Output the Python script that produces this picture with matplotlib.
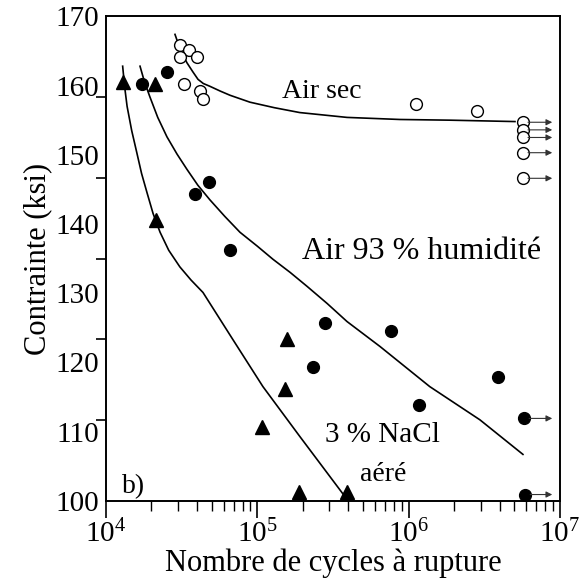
import numpy as np
import matplotlib
matplotlib.use('Agg')
import matplotlib.pyplot as plt

plt.rcParams['font.family'] = ['Liberation Serif', 'DejaVu Serif']
plt.rcParams['mathtext.fontset'] = 'custom'
plt.rcParams['mathtext.rm'] = 'Liberation Serif'

# ==========================================
# data
# ==========================================
# Air sec (open circles)
sec_n = [3.08e4, 3.54e4, 3.99e4, 3.08e4, 3.28e4, 4.18e4, 4.37e4, 1.12e6, 2.83e6]
sec_s = [165.9, 165.2, 164.2, 164.1, 160.2, 159.2, 158.0, 157.3, 156.3]
sec_run_n = [5.7e6, 5.7e6, 5.7e6, 5.7e6, 5.7e6]
sec_run_s = [154.7, 153.6, 152.5, 150.3, 146.6]
sec_curve_n = [2.86e4, 3.10e4, 3.43e4, 3.75e4, 4.06e4, 4.40e4, 4.86e4, 5.70e4, 6.61e4,
               8.95e4, 1.30e5, 1.91e5, 3.92e5, 8.77e5, 1.88e6, 5.05e6]
sec_curve_s = [167.4, 165.2, 163.3, 162.0, 160.9, 160.3, 159.9, 159.2, 158.6,
               157.6, 156.8, 156.1, 155.4, 155.1, 155.0, 154.8]

# Air 93 % humidite (filled circles)
hum_n = [1.73e4, 2.53e4, 4.80e4, 3.87e4, 6.61e4, 2.80e5, 2.33e5, 7.66e5, 1.17e6, 3.90e6]
hum_s = [160.2, 162.0, 146.1, 144.4, 136.3, 125.7, 119.4, 124.6, 113.9, 117.9]
hum_run_n = [5.8e6, 5.9e6]
hum_run_s = [111.9, 100.9]
hum_curve_n = [1.68e4, 1.80e4, 1.95e4, 2.20e4, 2.53e4, 2.95e4, 3.43e4, 4.05e4, 4.86e4, 6.10e4,
               7.69e4, 1.00e5, 1.27e5, 1.65e5, 2.13e5, 2.90e5, 3.92e5, 6.47e5, 1.38e6,
               2.96e6, 5.70e6]
hum_curve_s = [162.8, 160.5, 158.4, 155.4, 152.6, 150.1, 147.9, 145.6, 143.5, 141.1,
               138.8, 136.8, 134.9, 133.0, 131.0, 128.5, 125.9, 122.3, 116.5,
               111.7, 106.7]

# 3 % NaCl aere (triangles)
nacl_n = [1.30e4, 2.11e4, 2.14e4, 1.57e5, 1.52e5, 1.07e5, 1.89e5, 3.92e5]
nacl_s = [160.5, 160.2, 140.6, 123.4, 116.1, 110.6, 101.2, 101.2]
nacl_curve_n = [1.29e4, 1.33e4, 1.38e4, 1.48e4, 1.60e4, 1.72e4, 1.87e4, 2.05e4, 2.28e4,
                2.60e4, 3.08e4, 3.65e4, 4.38e4, 6.90e4, 1.09e5, 1.91e5, 3.80e5]
nacl_curve_s = [162.8, 159.8, 157.0, 153.5, 150.3, 147.3, 144.5, 141.5, 138.8,
                136.2, 133.8, 131.9, 130.1, 123.3, 116.5, 109.3, 100.6]

run_end = 8.9e6
y_labels = [100, 110, 120, 130, 140, 150, 160, 170]

# ==========================================
# figure
# ==========================================
fig = plt.figure(figsize=(5.82, 5.85), dpi=100)
ax = fig.add_axes([0.182, 0.144, 0.780, 0.828])

ax.plot(sec_curve_n, sec_curve_s, color='black', linewidth=1.2)
ax.plot(hum_curve_n, hum_curve_s, color='black', linewidth=1.2)
ax.plot(nacl_curve_n, nacl_curve_s, color='black', linewidth=1.2)

# run-out arrows
for n, s in zip(sec_run_n + hum_run_n, sec_run_s + hum_run_s):
    ax.annotate('', xy=(run_end, s), xytext=(n * 1.08, s),
                arrowprops=dict(arrowstyle='-|>', color='#333333', lw=0.8,
                                mutation_scale=9, shrinkA=0, shrinkB=0))

ax.plot(sec_n + sec_run_n, sec_s + sec_run_s, 'o', markersize=8.5,
        markerfacecolor='white', markeredgecolor='black', markeredgewidth=1.0)
ax.plot(hum_n + hum_run_n, hum_s + hum_run_s, 'o', markersize=8.5, color='black')
ax.plot(nacl_n, nacl_s, '^', markersize=10, color='black', clip_on=False)

ax.set_xscale('log')
ax.set_xlim(1e4, 1e7)
ax.set_ylim(100, 170)

# labels are evenly spaced; the printed tick marks follow another spacing
ax.set_yticks(y_labels)
ax.set_yticks(np.linspace(100, 170, 7), minor=True)
ax.tick_params(axis='y', which='major', length=0, labelsize=21, pad=5)
ax.tick_params(axis='y', which='minor', length=7, width=1.2, direction='out')
ax.tick_params(axis='x', which='major', length=12, width=1.2, direction='out', labelsize=21, pad=2)
ax.tick_params(axis='x', which='minor', length=7, width=1.0, direction='out')

for sp in ax.spines.values():
    sp.set_linewidth(1.4)

ax.set_ylabel('Contrainte (ksi)', fontsize=22, labelpad=2)
ax.set_xlabel('Nombre de cycles à rupture', fontsize=22, labelpad=0)

ax.text(2.68e5, 159.2, 'Air sec', fontsize=20, ha='center', va='center')
ax.text(1.22e6, 136.0, 'Air 93 % humidité', fontsize=23, ha='center', va='center')
ax.text(6.77e5, 109.5, '3 % NaCl', fontsize=21, ha='center', va='center')
ax.text(6.77e5, 103.8, 'aéré', fontsize=20, ha='center', va='center')
ax.text(1.53e4, 102.0, 'b)', fontsize=20, ha='center', va='center')

fig.savefig('out.png', dpi=100)
